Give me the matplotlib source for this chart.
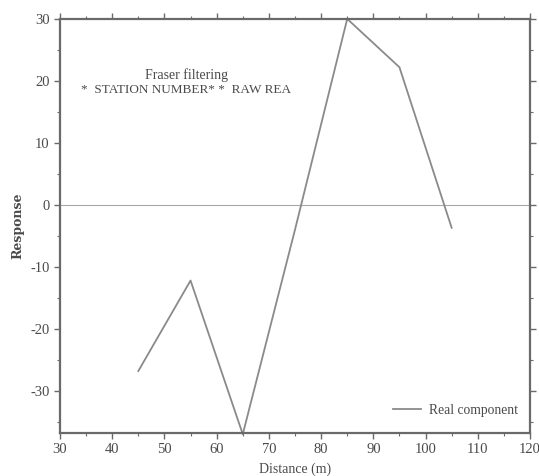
import matplotlib
matplotlib.use("Agg")
import matplotlib.pyplot as plt
from matplotlib.ticker import MultipleLocator

# Real component of the Fraser-filtered VLF response along the profile
distance = [45, 55, 65, 75, 85, 95, 105]
real_component = [-26.8, -12.2, -37.0, -4.0, 30.0, 22.2, -3.7]

x_ticks = [30, 40, 50, 60, 70, 80, 90, 100, 110, 120]
y_ticks = [-30, -20, -10, 0, 10, 20, 30]

plt.rcParams["font.family"] = ["Liberation Serif", "DejaVu Serif"]
plt.rcParams["axes.unicode_minus"] = False

fig = plt.figure(figsize=(5.39, 4.76), dpi=100)
ax = fig.add_axes([0.1113, 0.0903, 0.872, 0.870])

line_color = "#8a8a8a"
axis_color = "#6a6a6a"
text_color = "#4a4a4a"

ax.axhline(0, color="#a8a8a8", lw=0.8, zorder=1)
ax.plot(distance, real_component, color=line_color, lw=1.3,
        label="Real component", zorder=2, clip_on=False)

ax.set_xlim(30, 120)
ax.set_ylim(-36.8, 30)
ax.set_xticks(x_ticks)
ax.set_yticks(y_ticks)
ax.xaxis.set_minor_locator(MultipleLocator(5))
ax.yaxis.set_minor_locator(MultipleLocator(5))

for side in ["left", "right", "top", "bottom"]:
    ax.spines[side].set_color(axis_color)
    ax.spines[side].set_linewidth(1.6)

ax.tick_params(which="both", direction="out", top=True, right=True,
               color=axis_color, labelcolor=text_color, labelsize=10.5)
ax.tick_params(which="major", length=4, width=1.0)
ax.tick_params(which="minor", length=2.5, width=0.8)
ax.tick_params(labeltop=False, labelright=False)

ax.set_xlabel("Distance (m)", fontsize=10, color=text_color)
ax.xaxis.set_label_coords(0.5, -0.072)
ax.set_ylabel("Response", fontsize=9, color=text_color, fontweight="bold",
              family=["DejaVu Serif"])
ax.yaxis.set_label_coords(-0.076, 0.5)

ax.text(0.27, 0.865, "Fraser filtering", transform=ax.transAxes,
        ha="center", va="center", fontsize=10, color=text_color)
ax.text(0.268, 0.828, "*  STATION NUMBER* *  RAW REA", transform=ax.transAxes,
        ha="center", va="center", fontsize=9.5, color=text_color)

ax.legend(loc="lower right", frameon=False, fontsize=9.8, handlelength=2.0,
          handletextpad=0.6, labelcolor=text_color,
          bbox_to_anchor=(1.0, 0.01))

fig.savefig("out.png", dpi=100)
